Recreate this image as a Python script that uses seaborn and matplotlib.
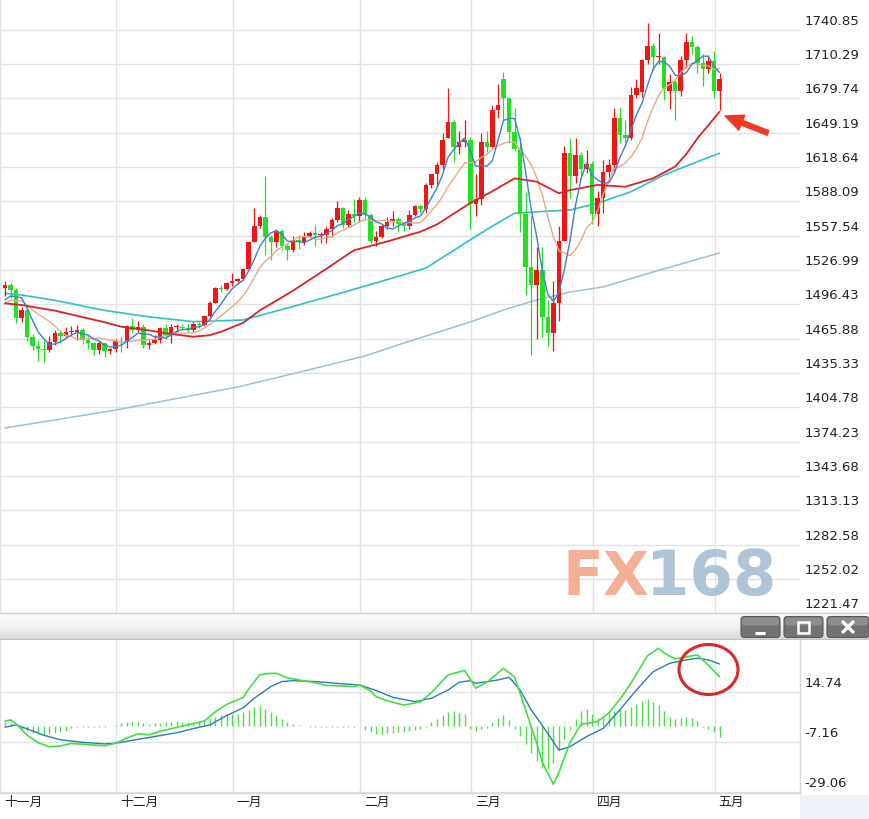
import numpy as np
import matplotlib
matplotlib.use("Agg")
import matplotlib.pyplot as plt
import matplotlib.transforms as mtransforms
from matplotlib.colors import LinearSegmentedColormap
from matplotlib.patches import Ellipse, FancyArrowPatch, FancyBboxPatch, Rectangle
import seaborn as sns

# ---------------- data (daily gold candles, 1 Nov 2019 .. 1 May 2020) ----------------
opens = [1511,1514,1509,1484,1491,1467,1459,1457,1456,1463,1471,1468,1472,1472,1474,1465,1462,1456,1462,1455,1457,
         1464,1463,1477,1474,1476,1460,1462,1465,1475,1469,1476,1476,1475,1474,1479,1478,1486,1498,1511,1510,1515,
         1517,1519,1528,1552,1566,1574,1556,1552,1562,1548,1545,1554,1552,1557,1560,1558,1558,1563,1571,1582,1567,1577,1575,
         1589,1576,1553,1556,1566,1570,1572,1568,1566,1576,1584,1581,1603,1612,1620,1644,1659,1636,1641,1643,
         1586,1590,1641,1636,1669,1697,1680,1650,1635,1577,1530,1514,1527,1485,1471,1498,1553,1631,1611,1629,1617,1621,
         1577,1591,1614,1620,1662,1647,1644,1683,1685,1714,1726,1716,1716,1686,1694,1686,1714,1730,1725,1711,1706,1713,
         1686]
highs = [1517,1515,1511,1494,1494,1470,1465,1465,1468,1474,1474,1476,1477,1478,1475,1468,1463,1464,1462,1458,1466,
         1467,1478,1484,1482,1479,1465,1469,1476,1479,1479,1479,1479,1479,1481,1481,1487,1499,1512,1514,1516,1524,
         1520,1529,1553,1582,1576,1611,1558,1563,1563,1551,1557,1558,1561,1562,1567,1561,1566,1573,1588,1583,1580,1590,1592,
         1592,1578,1562,1568,1574,1579,1574,1570,1580,1585,1585,1604,1612,1623,1649,1689,1660,1651,1660,1645,
         1612,1649,1651,1674,1692,1703,1681,1671,1645,1596,1575,1547,1547,1500,1517,1566,1637,1644,1644,1632,1634,1624,
         1597,1625,1626,1671,1672,1660,1690,1697,1715,1747,1729,1738,1717,1701,1697,1717,1738,1735,1727,1719,1718,1722,
         1702]
lows = [1504,1502,1480,1481,1464,1456,1446,1445,1454,1460,1462,1467,1468,1465,1461,1457,1451,1452,1450,1452,1454,
        1454,1458,1471,1472,1458,1457,1461,1462,1466,1462,1472,1474,1472,1472,1475,1477,1485,1498,1507,1509,1513,
        1516,1518,1527,1552,1564,1540,1536,1547,1545,1536,1543,1546,1549,1556,1548,1551,1551,1556,1570,1564,1565,1570,1570,
        1571,1551,1548,1555,1563,1566,1561,1562,1563,1575,1578,1578,1600,1603,1616,1644,1623,1630,1636,1563,
        1575,1585,1632,1636,1662,1660,1640,1633,1561,1505,1451,1466,1467,1459,1455,1482,1553,1591,1604,1608,1613,1568,
        1566,1578,1605,1614,1640,1641,1643,1680,1681,1710,1705,1710,1678,1670,1660,1682,1707,1719,1702,1691,1702,1680,
        1669]
closes = [1514,1509,1484,1491,1467,1459,1457,1456,1463,1471,1468,1472,1472,1474,1465,1462,1456,1462,1455,1457,1464,
          1463,1477,1474,1476,1460,1462,1465,1475,1469,1476,1476,1475,1474,1479,1478,1486,1498,1511,1510,1515,1517,
          1519,1528,1552,1566,1574,1556,1552,1562,1548,1545,1554,1552,1557,1560,1558,1558,1563,1571,1582,1567,1577,1575,1589,
          1576,1553,1556,1566,1570,1572,1568,1566,1576,1584,1581,1603,1612,1620,1643,1659,1636,1641,1643,1586,
          1590,1641,1636,1669,1674,1680,1650,1635,1577,1530,1514,1527,1485,1471,1498,1553,1631,1611,1629,1617,1621,1577,
          1591,1614,1620,1662,1647,1644,1683,1689,1714,1726,1716,1717,1688,1694,1686,1714,1730,1725,1711,1706,1713,1686,
          1697]

ma5 = [1500.4,1503.8,1503.2,1502.2,1493.0,1482.0,1471.6,1466.0,1460.4,1461.2,1463.0,1466.0,1469.2,1471.4,1470.2,1469.0,
       1465.8,1463.8,1460.0,1458.4,1458.8,1460.2,1463.2,1467.0,1470.8,1470.0,1469.8,1467.4,1467.6,1466.2,1469.4,1472.2,
       1474.2,1474.0,1476.0,1476.4,1478.4,1483.0,1490.4,1496.6,1504.0,1510.2,1514.4,1517.8,1526.2,1536.4,1547.8,1555.2,
       1560.0,1562.0,1558.4,1552.6,1552.2,1552.2,1551.2,1553.6,1556.2,1557.0,1559.2,1562.0,1566.4,1568.2,1572.0,1574.4,
       1578.0,1576.8,1574.0,1569.8,1568.0,1564.2,1563.4,1566.4,1568.4,1570.4,1573.2,1575.0,1582.0,1591.2,1600.0,1611.8,
       1627.4,1634.0,1639.8,1644.4,1633.0,1619.2,1620.2,1619.2,1624.4,1642.0,1660.0,1661.8,1661.6,1643.2,1614.4,1581.2,
       1556.6,1526.6,1505.4,1499.0,1506.8,1527.6,1552.8,1584.4,1608.2,1621.8,1611.0,1607.0,1604.0,1604.6,1612.8,1626.8,
       1637.4,1651.2,1665.0,1675.4,1691.2,1705.6,1712.4,1712.2,1708.2,1700.2,1699.8,1702.4,1709.8,1713.2,1717.2,1717.0,
       1708.2,1702.6]
ma10 = [1497.6,1500.1,1499.7,1499.5,1495.8,1491.2,1487.7,1484.6,1481.3,1477.1,1472.5,1468.8,1467.6,1465.9,1465.7,1466.0,
        1465.9,1466.5,1465.7,1464.3,1463.9,1463.0,1463.5,1463.5,1464.6,1464.4,1465.0,1465.3,1467.3,1468.5,1469.7,1471.0,
        1470.8,1470.8,1471.1,1472.9,1475.3,1478.6,1482.2,1486.3,1490.2,1494.3,1498.7,1504.1,1511.4,1520.2,1529.0,1534.8,
        1538.9,1544.1,1547.4,1550.2,1553.7,1556.1,1556.6,1556.0,1554.4,1554.6,1555.7,1556.6,1560.0,1562.2,1564.5,1566.8,
        1570.0,1571.6,1571.1,1570.9,1571.2,1571.1,1570.1,1570.2,1569.1,1569.2,1568.7,1569.2,1574.2,1579.8,1585.2,1592.5,
        1601.2,1608.0,1615.5,1622.2,1622.4,1623.3,1627.1,1629.5,1634.4,1637.5,1639.6,1641.0,1640.4,1633.8,1628.2,1620.6,
        1609.2,1594.1,1574.3,1556.7,1544.0,1542.1,1539.7,1544.9,1553.6,1564.3,1569.3,1579.9,1594.2,1606.4,1617.3,1618.9,
        1622.2,1627.6,1634.8,1644.1,1659.0,1671.5,1681.8,1688.6,1691.8,1695.7,1702.7,1707.4,1711.0,1710.7,1708.7,1708.4,
        1705.3,1706.2]

ma30_idx = [0, 3, 9, 18, 21, 26, 30, 34, 37, 39, 43, 46, 52, 58, 63, 69, 75, 78, 84, 88, 92, 96, 100, 102, 107, 112, 117, 121, 123, 125, 129]
ma30_val = [1497.3, 1495.8, 1490.8, 1480.5, 1476.5, 1473.2, 1470.0, 1467.6, 1469.0, 1472.0, 1480.0, 1491.0, 1508.5, 1528.0,
            1544.5, 1552.3, 1561.0, 1567.5, 1586.5, 1597.0, 1608.5, 1605.5, 1595.2, 1598.0, 1602.6, 1601.0, 1608.5, 1619.0,
            1630.0, 1644.0, 1667.7]
ma60_idx = [0, 3, 9, 18, 26, 34, 43, 52, 61, 67, 72, 76, 84, 88, 92, 97, 102, 107, 113, 119, 125, 129]
ma60_val = [1506.2, 1504.7, 1500.0, 1491.0, 1485.3, 1481.0, 1482.5, 1494.5, 1507.0, 1515.5, 1522.8, 1528.7, 1553.8, 1566.0,
            1577.4, 1579.0, 1580.3, 1586.3, 1596.6, 1611.5, 1623.3, 1630.8]
ma200_idx = [0, 20, 42, 54, 65, 72, 84, 90, 96, 102, 108, 117, 129]
ma200_val = [1386.4, 1402.4, 1422.9, 1437.1, 1450.5, 1462.0, 1480.7, 1491.4, 1500.3, 1507.4, 1511.9, 1525.2, 1542.1]

dif_idx = [0, 1, 2, 4, 6, 8, 10, 12, 15, 18, 20, 22, 24, 26, 28, 32, 36, 38, 40, 43, 44, 46, 48, 49, 51, 54, 56, 58, 61, 63,
           64, 66, 67, 69, 72, 75, 77, 80, 83, 85, 87, 90, 92, 94, 96, 97, 99, 100, 102, 104, 107, 109, 111, 113, 116, 118,
           119, 121, 123, 125, 127, 129]
dif_val = [2.0, 2.5, 0.8, -4.2, -7.5, -9.2, -8.9, -7.8, -8.3, -8.8, -7.7, -5.4, -3.6, -4.0, -2.5, -0.2, 2.0, 6.1, 9.3, 12.3,
           16.0, 22.3, 22.9, 22.9, 20.9, 19.6, 18.8, 17.6, 17.4, 17.1, 17.8, 15.2, 12.7, 10.9, 9.0, 10.4, 14.5, 22.2, 24.2,
           16.4, 19.0, 25.1, 21.3, 6.9, -7.7, -16.0, -25.7, -20.5, -7.5, 0.6, 1.8, 5.5, 11.5, 18.5, 30.6, 33.9, 31.8, 29.2,
           30.1, 31.0, 26.4, 21.4]
dea_idx = [0, 2, 4, 7, 10, 14, 18, 20, 24, 27, 31, 34, 37, 40, 43, 45, 48, 50, 52, 56, 60, 64, 67, 70, 74, 77, 80, 82, 84,
           85, 89, 91, 93, 95, 98, 100, 102, 105, 108, 111, 114, 117, 120, 123, 125, 127, 129]
dea_val = [-0.7, 0.3, -1.4, -4.2, -6.2, -7.3, -8.0, -7.7, -6.0, -4.8, -3.1, -1.3, 0.3, 4.4, 7.8, 12.0, 17.1, 19.3, 19.7,
           19.3, 18.5, 17.8, 15.4, 12.4, 10.5, 12.0, 15.6, 19.0, 19.7, 18.5, 20.0, 21.2, 15.6, 6.9, -3.4, -10.7, -9.2, -4.8,
           -1.2, 6.9, 15.6, 23.6, 27.3, 28.8, 29.5, 28.8, 27.0]
macd_hist = [1.5, 1.0, 0.0, -1.5, -2.5, -3.2, -3.8, -4.0, -3.8, -3.4,
             -2.8, -2.2, -1.0, -0.6, -0.4, -0.4, -0.5, -0.6, -0.5, -0.2,
             0.3, 1.0, 1.8, 2.2, 2.0, 1.2, 0.8, 1.0, 1.3, 1.6,
             1.8, 1.9, 1.8, 1.7, 1.8, 2.0, 2.5, 3.5, 4.0, 4.5,
             5.0, 5.3, 5.2, 5.8, 6.8, 8.0, 8.4, 7.5, 6.0, 4.6,
             3.0, 1.5, 0.5, 0.2, -0.3, -0.5, -0.7, -0.5, -0.8, -0.7,
             -0.5, -0.6, -0.5, -0.5, -0.3, -2.0, -3.0, -3.6, -3.6, -3.4,
             -3.2, -3.0, -2.8, -2.5, -2.0, -1.5, -0.5, 1.5, 3.0, 4.5,
             6.0, 6.5, 5.5, 5.0, -1.5, -2.5, -1.5, -1.0, 1.5, 3.5,
             4.5, 2.5, -1.5, -4.5, -8.0, -12.0, -15.5, -18.5, -19.0, -16.5,
             -11.0, -6.0, -2.0, 3.0, 6.5, 7.5, 5.0, 3.5, 4.0, 6.0,
             6.5, 7.5, 7.0, 8.0, 9.5, 11.0, 11.5, 10.5, 9.0, 6.5,
             4.0, 3.0, 3.5, 4.0, 3.5, 2.0, -0.5, -1.5, -3.0, -5.0]

month_labels = ["十一月", "十二月", "一月", "二月", "三月", "四月", "五月"]
month_first_bar = [0, 21, 42, 65, 85, 107, 129]
price_tick_labels = ["1740.85", "1710.29", "1679.74", "1649.19", "1618.64", "1588.09", "1557.54", "1526.99",
                     "1496.43", "1465.88", "1435.33", "1404.78", "1374.23", "1343.68", "1313.13", "1282.58",
                     "1252.02", "1221.47"]
macd_tick_labels = ["14.74", "-7.16", "-29.06"]

# ---------------- styling ----------------
sns.set_theme(style="white")
plt.rcParams['font.family'] = ['DejaVu Sans', 'Noto Sans CJK SC']

RED = '#f21515'
GREEN = '#22e022'
GRID = '#e2e2e2'
W, H = 869, 819

fig = plt.figure(figsize=(W / 100, H / 100), dpi=100)
fig.patch.set_facecolor('white')


def rect(x0, y0, x1, y1):
    return [x0 / W, 1 - y1 / H, (x1 - x0) / W, (y1 - y0) / H]


ax = fig.add_axes(rect(0, 0, 800, 614))
axm = fig.add_axes(rect(0, 640, 800, 793))

XLIM = (-0.36, 143.53)
month_pos = [m - 0.9 for m in month_first_bar]

# ---------------- candles ----------------
o = np.array(opens, float)
h = np.array(highs, float)
l = np.array(lows, float)
c = np.array(closes, float)
x = np.arange(len(c))
cols = np.where(c >= o, RED, GREEN)

ax.vlines(x, l, h, colors=cols, linewidth=0.9, zorder=3)
ax.bar(x, np.maximum(np.abs(c - o), 1.0), bottom=np.minimum(o, c), width=0.82,
       color=cols, linewidth=0, zorder=4)

sns.lineplot(x=ma200_idx, y=ma200_val, ax=ax, color='#9dbfd6', linewidth=1.1, zorder=2, estimator=None)
sns.lineplot(x=ma60_idx, y=ma60_val, ax=ax, color='#2cc2c8', linewidth=1.2, zorder=2, estimator=None)
sns.lineplot(x=list(x), y=ma10, ax=ax, color='#e4ac84', linewidth=1.0, zorder=5, estimator=None)
sns.lineplot(x=ma30_idx, y=ma30_val, ax=ax, color='#dc2222', linewidth=1.3, zorder=6, estimator=None)
sns.lineplot(x=list(x), y=ma5, ax=ax, color='#3c80d0', linewidth=1.0, zorder=6, estimator=None)

ax.set_xlim(*XLIM)
ax.set_ylim(1221.0, 1767.1)
ax.set_xlabel('')
ax.set_ylabel('')
ax.set_xticks(month_pos)
ax.tick_params(axis='x', labelbottom=False, length=0)
ax.yaxis.tick_right()
price_vals = [float(s) for s in price_tick_labels]
ax.set_yticks(price_vals)
ax.set_yticklabels(price_tick_labels)
ax.tick_params(axis='y', length=0, pad=3, labelsize=9.5, labelcolor='#222222')
ax.grid(True, color=GRID, linewidth=1.0)
ax.set_axisbelow(True)
for s in ax.spines.values():
    s.set_visible(False)

# ---------------- MACD panel ----------------
axm.vlines(x, 0, macd_hist, colors='#4ede4e', linewidth=1.0, zorder=3)
sns.lineplot(x=dea_idx, y=dea_val, ax=axm, color='#2b7bb9', linewidth=1.0, zorder=4, estimator=None)
sns.lineplot(x=dif_idx, y=dif_val, ax=axm, color='#3fe03f', linewidth=1.2, zorder=5, estimator=None)
axm.set_xlim(*XLIM)
axm.set_ylim(-29.5, 37.5)
axm.set_xlabel('')
axm.set_ylabel('')
axm.yaxis.tick_right()
axm.set_yticks([float(s) for s in macd_tick_labels])
axm.set_yticklabels(macd_tick_labels)
axm.tick_params(axis='y', length=0, pad=3, labelsize=9.5, labelcolor='#222222')
axm.set_xticks(month_pos)
axm.set_xticklabels(month_labels, family=['Noto Sans CJK SC', 'DejaVu Sans'], fontsize=9.2, color='#222222')
axm.tick_params(axis='x', length=0, pad=2)
for t in axm.get_xticklabels():
    t.set_horizontalalignment('left')
axm.grid(True, color=GRID, linewidth=1.0)
axm.set_axisbelow(True)
for k, s in axm.spines.items():
    s.set_visible(k in ('right', 'bottom'))
    s.set_color('#d6d6d6')
    s.set_linewidth(1.0)

# ---------------- window bar between the panels ----------------
bar_ax = fig.add_axes(rect(0, 612, W, 640))
bar_ax.set_xlim(0, W)
bar_ax.set_ylim(640, 612)
bar_ax.axis('off')
grad_cmap = LinearSegmentedColormap.from_list('g', ['#fbfbfb', '#f3f3f3', '#d9d9d9'])
bar_ax.imshow(np.linspace(0, 1, 32).reshape(-1, 1), extent=[0, W, 640, 612], cmap=grad_cmap,
              aspect='auto', interpolation='bilinear')
bar_ax.plot([0, W], [612.6, 612.6], color='#d0d0d0', lw=1.0)
bar_ax.plot([0, W], [639.4, 639.4], color='#c4c4c4', lw=1.0)
for bx0, bx1 in [(741, 780), (784, 823), (827, 869)]:
    bar_ax.add_patch(FancyBboxPatch((bx0, 616.5), bx1 - bx0, 21, boxstyle='round,pad=0,rounding_size=3.5',
                                    fc='#727272', ec='#5a5a5a', lw=0.8))
    bar_ax.add_patch(FancyBboxPatch((bx0 + 1, 617.5), bx1 - bx0 - 2, 8, boxstyle='round,pad=0,rounding_size=3',
                                    fc='#8e8e8e', ec='none'))
bar_ax.plot([755, 765], [632.5, 632.5], color='white', lw=2.2, solid_capstyle='butt')
bar_ax.add_patch(Rectangle((798, 621.5), 11, 11, fill=False, ec='white', lw=1.8))
bar_ax.plot([843, 853], [622, 632], color='white', lw=2.4)
bar_ax.plot([843, 853], [632, 622], color='white', lw=2.4)

# bottom-right tinted corner
fig.add_artist(Rectangle((800 / 100, 0), (W - 800) / 100, (H - 795) / 100, transform=fig.dpi_scale_trans,
                         fc='#eef3f9', ec='none', zorder=0))

# ---------------- watermark, arrow, circle ----------------
fig.text(649 / W, 1 - 595 / H, 'FX', fontsize=43, fontweight='bold', color='#f4a68c', ha='right',
         va='baseline', alpha=0.9, family='DejaVu Sans')
fig.text(646 / W, 1 - 595 / H, '168', fontsize=45, fontweight='bold', color='#a6bed2', ha='left',
         va='baseline', alpha=0.9, family='DejaVu Sans')

fig.add_artist(FancyArrowPatch(posA=(768 / 100, (H - 133) / 100), posB=(725 / 100, (H - 116) / 100),
                               transform=fig.dpi_scale_trans,
                               arrowstyle='simple,head_length=1.3,head_width=1.15,tail_width=0.35',
                               mutation_scale=10, color='#ee3a24', shrinkA=0, shrinkB=0, zorder=10))
fig.add_artist(Ellipse((708.5 / 100, (H - 669.5) / 100), 0.59, 0.50, transform=fig.dpi_scale_trans,
                       fill=False, ec='#d42a2a', lw=2.2, zorder=10))

# ---------------- lift y labels above their grid lines, nudge month labels ----------------
up = mtransforms.ScaledTranslation(0, 10 / 100, fig.dpi_scale_trans)
for a in (ax, axm):
    for t in a.get_yticklabels():
        t.set_transform(t.get_transform() + up)
right = mtransforms.ScaledTranslation(4 / 100, 0, fig.dpi_scale_trans)
for t in axm.get_xticklabels():
    t.set_transform(t.get_transform() + right)

fig.savefig('out.png', dpi=100)
